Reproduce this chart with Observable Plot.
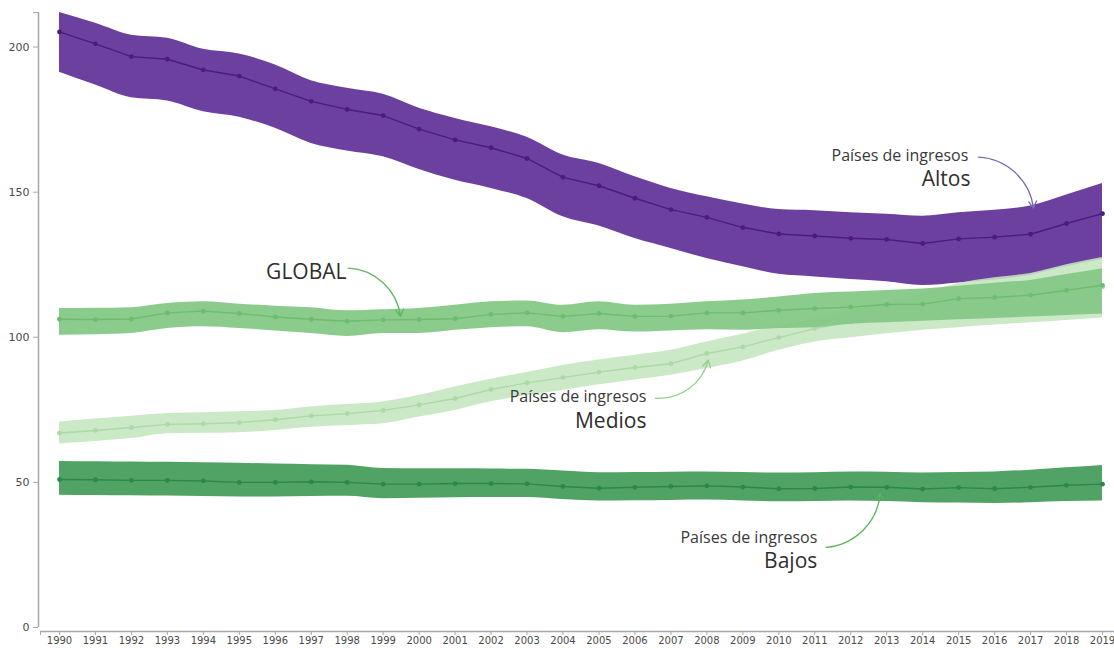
<!DOCTYPE html>
<html>
<head>
<meta charset="utf-8">
<script src="https://cdn.jsdelivr.net/npm/d3@7"></script>
<script src="https://cdn.jsdelivr.net/npm/@observablehq/plot@0.6"></script>
<style>
  body { margin: 0; background: #fff; }
  #chart svg { display: block; }
</style>
</head>
<body>
<div id="chart"></div>
<script>
// Years on the horizontal axis
const years = [1990, 1991, 1992, 1993, 1994, 1995, 1996, 1997, 1998, 1999,
               2000, 2001, 2002, 2003, 2004, 2005, 2006, 2007, 2008, 2009,
               2010, 2011, 2012, 2013, 2014, 2015, 2016, 2017, 2018, 2019];

// Países de ingresos altos: estimate and interval
const altosMid = [205.2, 201.1, 196.7, 195.8, 192.1, 190.0, 185.6, 181.3, 178.5, 176.4,
                  171.7, 168.0, 165.3, 161.6, 155.1, 152.2, 147.9, 144.0, 141.3, 137.8,
                  135.6, 134.9, 134.1, 133.7, 132.3, 133.9, 134.5, 135.5, 139.2, 142.6];
const altosHigh = [211.9, 208.2, 204.1, 203.0, 199.2, 197.6, 193.8, 188.4, 185.8, 183.7,
                   178.9, 175.4, 172.5, 168.9, 162.8, 159.9, 155.3, 151.3, 148.4, 145.9,
                   144.0, 143.6, 142.9, 142.4, 141.7, 142.9, 143.8, 145.2, 149.0, 153.0];
const altosLow = [191.3, 186.9, 182.5, 181.4, 177.7, 175.8, 172.0, 166.8, 164.2, 162.2,
                  157.8, 154.1, 151.3, 147.8, 141.5, 138.3, 134.0, 130.6, 127.1, 124.3,
                  121.7, 120.8, 119.9, 119.1, 117.8, 118.7, 119.7, 121.4, 124.3, 126.8];

// Global
const globalMid = [106.2, 106.1, 106.3, 108.4, 109.0, 108.2, 107.0, 106.2, 105.5, 106.0,
                   106.1, 106.4, 107.9, 108.4, 107.2, 108.2, 107.2, 107.3, 108.4, 108.4,
                   109.3, 109.9, 110.4, 111.3, 111.4, 113.3, 113.7, 114.5, 116.2, 117.9];
const globalHigh = [109.9, 110.0, 110.2, 111.6, 112.2, 111.4, 110.7, 110.2, 109.1, 109.5,
                    109.9, 111.0, 112.2, 112.5, 111.0, 112.2, 111.0, 111.4, 112.2, 112.8,
                    113.9, 115.1, 115.6, 116.1, 116.6, 117.6, 118.6, 119.6, 121.6, 123.6];
const globalLow = [100.7, 100.9, 101.3, 103.0, 103.6, 103.0, 102.2, 101.3, 100.3, 101.3,
                   101.3, 102.4, 103.3, 103.6, 101.6, 102.6, 101.8, 102.2, 102.6, 102.4,
                   103.0, 103.3, 104.5, 105.0, 105.5, 106.0, 106.5, 107.0, 107.5, 108.0];

// Países de ingresos medios
const mediosMid = [67.0, 67.9, 68.9, 70.0, 70.2, 70.6, 71.6, 72.9, 73.7, 74.8,
                   76.7, 78.9, 82.0, 84.3, 86.1, 88.0, 89.6, 90.9, 94.4, 96.7,
                   99.9, 103.0, 105.3, 107.3, 109.3, 111.0, 112.5, 114.0, 115.7, 117.3];
const mediosHigh = [70.8, 71.8, 72.8, 73.7, 74.0, 74.3, 74.8, 76.0, 76.8, 77.7,
                    80.0, 82.9, 85.5, 87.9, 90.3, 92.2, 93.8, 95.5, 98.4, 101.0,
                    104.1, 106.4, 109.2, 112.0, 115.0, 118.5, 120.5, 122.0, 125.0, 127.5];
const mediosLow = [63.3, 64.1, 65.1, 66.8, 66.9, 67.1, 67.9, 69.0, 69.6, 70.2,
                   72.5, 74.8, 77.8, 79.9, 81.7, 83.6, 85.3, 86.9, 89.2, 91.8,
                   95.5, 98.4, 99.8, 101.2, 102.4, 103.3, 104.2, 105.0, 105.8, 106.6];

// Países de ingresos bajos
const bajosMid = [51.0, 50.9, 50.7, 50.7, 50.5, 50.0, 50.0, 50.2, 50.0, 49.4,
                  49.4, 49.6, 49.6, 49.5, 48.6, 48.0, 48.3, 48.6, 48.8, 48.4,
                  47.8, 47.9, 48.4, 48.3, 47.7, 48.2, 47.8, 48.3, 49.0, 49.4];
const bajosHigh = [57.2, 57.1, 57.0, 56.9, 56.8, 56.6, 56.3, 56.1, 55.9, 54.8,
                   54.7, 54.7, 54.6, 54.5, 53.9, 53.3, 53.4, 53.5, 53.6, 53.4,
                   53.2, 53.3, 53.6, 53.5, 53.2, 53.4, 53.6, 54.2, 55.0, 55.8];
const bajosLow = [45.6, 45.5, 45.4, 45.3, 45.1, 45.0, 45.0, 45.1, 45.2, 44.4,
                  44.5, 44.7, 44.8, 44.8, 44.1, 43.6, 43.7, 43.8, 43.9, 43.6,
                  43.3, 43.4, 43.6, 43.4, 43.0, 42.9, 42.7, 43.0, 43.4, 43.6];

// Y axis ticks
const yTicks = [0, 50, 100, 150, 200];

// Annotation texts, anchored in data space (year, value)
const noteTexts = [
  {text: "Países de ingresos", year: 2015.27, value: 162.6, big: false},
  {text: "Altos",              year: 2015.33, value: 154.4, big: true},
  {text: "GLOBAL",             year: 1997.98, value: 122.4, big: true},
  {text: "Países de ingresos", year: 2006.32, value: 79.3,  big: false},
  {text: "Medios",             year: 2006.32, value: 71.2,  big: true},
  {text: "Países de ingresos", year: 2011.07, value: 31.0,  big: false},
  {text: "Bajos",              year: 2011.07, value: 22.9,  big: true}
];

// Curved pointers from each label to its band
const noteArrows = [
  {group: "altos",  yearFrom: 2015.55, valueFrom: 162.1, yearTo: 2017.08, valueTo: 144.5, bend: 40},
  {group: "global", yearFrom: 1998.03, valueFrom: 123.8, yearTo: 1999.48, valueTo: 107.2, bend: 40},
  {group: "medios", yearFrom: 2006.57, valueFrom: 79.0,  yearTo: 2008.04, valueTo: 92.1,  bend: -40},
  {group: "bajos",  yearFrom: 2011.32, valueFrom: 27.6,  yearTo: 2012.82, valueTo: 46.2,  bend: -40}
];

const arrowColor = {altos: "#7a6ab2", global: "#5cb85e", medios: "#8fd08a", bajos: "#57b45a"};

const toRows = (mid, lo, hi) => years.map((year, i) => ({year, mid: mid[i], lo: lo[i], hi: hi[i]}));

const series = [
  {rows: toRows(altosMid, altosLow, altosHigh),    band: "#6c409e", line: "#4b1c7e", op: 1},
  {rows: toRows(mediosMid, mediosLow, mediosHigh), band: "#c4e5bf", line: "#acd9a6", op: 0.88},
  {rows: toRows(globalMid, globalLow, globalHigh), band: "#86c987", line: "#6ebc70", op: 0.96},
  {rows: toRows(bajosMid, bajosLow, bajosHigh),    band: "#50a265", line: "#2c8847", op: 1}
];

const xMin = 1989.472, xMax = 2019.334;
const yMax = d3.max(altosHigh);

const seriesMarks = series.flatMap(s => [
  Plot.areaY(s.rows, {x: "year", y1: "lo", y2: "hi", fill: s.band, fillOpacity: s.op, curve: "monotone-x"}),
  Plot.line(s.rows, {x: "year", y: "mid", stroke: s.line, strokeWidth: 1.4}),
  Plot.dot(s.rows, {x: "year", y: "mid", r: 2.4, fill: s.line, stroke: "none"})
]);

const axisColor = "#a8a8a8";
const noteFont = "Open Sans, Lato, sans-serif";

const chart = Plot.plot({
  width: 1114,
  height: 648,
  marginLeft: 40,
  marginRight: 0,
  marginTop: 12,
  marginBottom: 21,
  style: {fontFamily: "DejaVu Sans, Verdana, sans-serif", fontSize: "11px", color: "#444", background: "#fff"},
  x: {domain: [xMin, xMax], label: null},
  y: {domain: [0, yMax], label: null},
  marks: [
    // axis lines
    Plot.ruleX([xMin], {stroke: axisColor, strokeWidth: 1.5, dx: -2}),
    Plot.ruleY([0], {stroke: axisColor, strokeWidth: 1.5, dy: 4}),
    Plot.axisY({ticks: yTicks, tickSize: 5, dx: -2, stroke: axisColor, fill: "#4a4a4a", tickFormat: d => String(d)}),
    Plot.axisY({ticks: [yMax], tickSize: 5, dx: -2, stroke: axisColor, tickFormat: () => ""}),
    Plot.axisX({ticks: years, tickSize: 4, dy: 4, stroke: axisColor, fill: "#4a4a4a", fontSize: 10,
                tickFormat: d => String(d), tickPadding: 1}),
    Plot.axisX({ticks: [xMin], tickSize: 4, dy: 4, stroke: axisColor, tickFormat: () => ""}),
    ...seriesMarks,
    // annotations
    Plot.text(noteTexts.filter(d => !d.big), {
      x: "year", y: "value", text: "text", textAnchor: "end",
      fontFamily: noteFont, fontSize: 16, fill: "#3a3a3a"
    }),
    Plot.text(noteTexts.filter(d => d.big), {
      x: "year", y: "value", text: "text", textAnchor: "end",
      fontFamily: noteFont, fontSize: 21, fill: "#2e2e2e"
    }),
    ...noteArrows.map(a => Plot.arrow([a], {
      x1: "yearFrom", y1: "valueFrom", x2: "yearTo", y2: "valueTo",
      bend: a.bend, stroke: arrowColor[a.group], strokeWidth: 1.3, headLength: 9
    }))
  ]
});

document.getElementById("chart").appendChild(chart);
</script>
</body>
</html>
